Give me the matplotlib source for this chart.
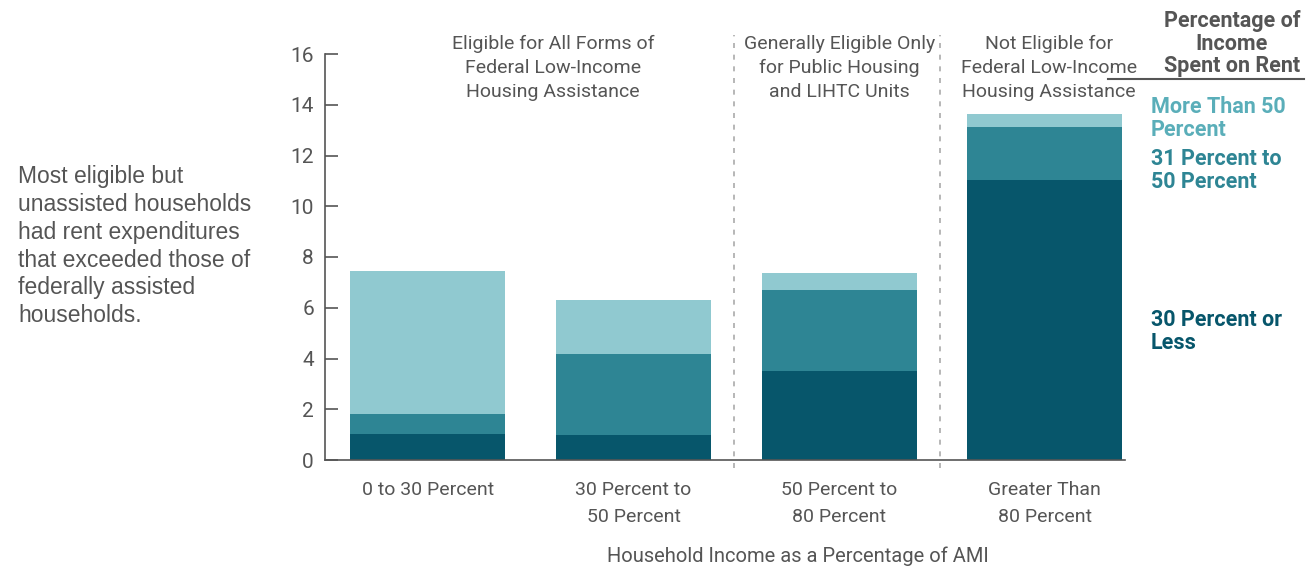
import matplotlib
matplotlib.use("Agg")
import matplotlib.pyplot as plt
from matplotlib.lines import Line2D

categories = ["0 to 30 Percent", "30 Percent to\n50 Percent", "50 Percent to\n80 Percent", "Greater Than\n80 Percent"]
less30 = [1.02, 0.98, 3.50, 11.05]
p31_50 = [0.79, 3.19, 3.19, 2.09]
more50 = [5.62, 2.12, 0.67, 0.51]
series_names = ["30 Percent or\nLess", "31 Percent to\n50 Percent", "More Than 50\nPercent"]
group_labels = ["Eligible for All Forms of\nFederal Low-Income\nHousing Assistance",
                "Generally Eligible Only\nfor Public Housing\nand LIHTC Units",
                "Not Eligible for\nFederal Low-Income\nHousing Assistance"]
yticks = [0, 2, 4, 6, 8, 10, 12, 14, 16]

C_DARK = "#07566b"
C_MID = "#2e8594"
C_LIGHT = "#90c9d0"
TXT = "#555555"
NARROW = ["Roboto", "DejaVu Sans"]

W, H = 1312, 567
fig = plt.figure(figsize=(W / 100, H / 100), dpi=100)
left, right, bottom, top = 325, 1125, 460, 54
ax = fig.add_axes([left / W, 1 - bottom / H, (right - left) / W, (bottom - top) / H])

x = list(range(len(categories)))
bw = 0.755
b2 = [a + b for a, b in zip(less30, p31_50)]
ax.bar(x, less30, width=bw, color=C_DARK, linewidth=0)
ax.bar(x, p31_50, width=bw, bottom=less30, color=C_MID, linewidth=0)
ax.bar(x, more50, width=bw, bottom=b2, color=C_LIGHT, linewidth=0)

ax.set_xlim(-0.5, 3.39)
ax.set_ylim(0, 16)
ax.set_yticks(yticks)
ax.set_xticks(x)
ax.set_xticklabels(categories, fontfamily=NARROW, fontsize=14, color=TXT, linespacing=1.62)
for lab in ax.get_yticklabels():
    lab.set_fontfamily(NARROW)
    lab.set_fontsize(15)
    lab.set_color(TXT)
ax.tick_params(axis="y", direction="in", length=9, width=1.2, color=TXT, pad=8)
ax.tick_params(axis="x", length=0, pad=15)
for s in ["top", "right"]:
    ax.spines[s].set_visible(False)
ax.spines["left"].set_color(TXT)
ax.spines["bottom"].set_color(TXT)
ax.spines["left"].set_linewidth(1.2)
ax.spines["bottom"].set_linewidth(1.2)

for xv in [1.49, 2.49]:
    ax.plot([xv, xv], [-0.3, 16.75], ls=(0, (3, 4)), color="#aaaaaa", lw=1.2, clip_on=False)

group_x = [0.61, 2.0, 3.02]
for gx, gl in zip(group_x, group_labels):
    ax.text(gx, 16.76, gl, ha="center", va="top", fontfamily=NARROW, fontsize=14,
            color=TXT, linespacing=1.42)

ax.set_xlabel("Household Income as a Percentage of AMI", fontfamily=NARROW, fontsize=14.5,
              color=TXT, va="center")
ax.xaxis.set_label_coords(0.591, -(556 - 460) / (460 - 54))

fig.text(18 / W, 1 - 165 / H,
         "Most eligible but\nunassisted households\nhad rent expenditures\nthat exceeded those of\nfederally assisted\nhouseholds.",
         ha="left", va="top", fontfamily=["Liberation Sans", "DejaVu Sans"], fontsize=16.5,
         color=TXT, linespacing=1.27)

fig.text(1232 / W, 1 - 10 / H, "Percentage of\nIncome\nSpent on Rent", ha="center", va="top",
         fontfamily=NARROW, fontsize=15.5, fontweight="bold", color=TXT, linespacing=1.03)
fig.add_artist(Line2D([1108 / W, 1304 / W], [1 - 79 / H, 1 - 79 / H], color=TXT, lw=1.5))

legend_pos = [(1151, 96, "#5aaeb9", series_names[2]),
              (1151, 148, "#2e8594", series_names[1]),
              (1151, 309, "#07566b", series_names[0])]
for px, py, tc, name in legend_pos:
    fig.text(px / W, 1 - py / H, name, ha="left", va="top", fontfamily=NARROW, fontsize=15.5,
             fontweight="bold", color=tc, linespacing=1.03)

fig.savefig("out.png", dpi=100)
